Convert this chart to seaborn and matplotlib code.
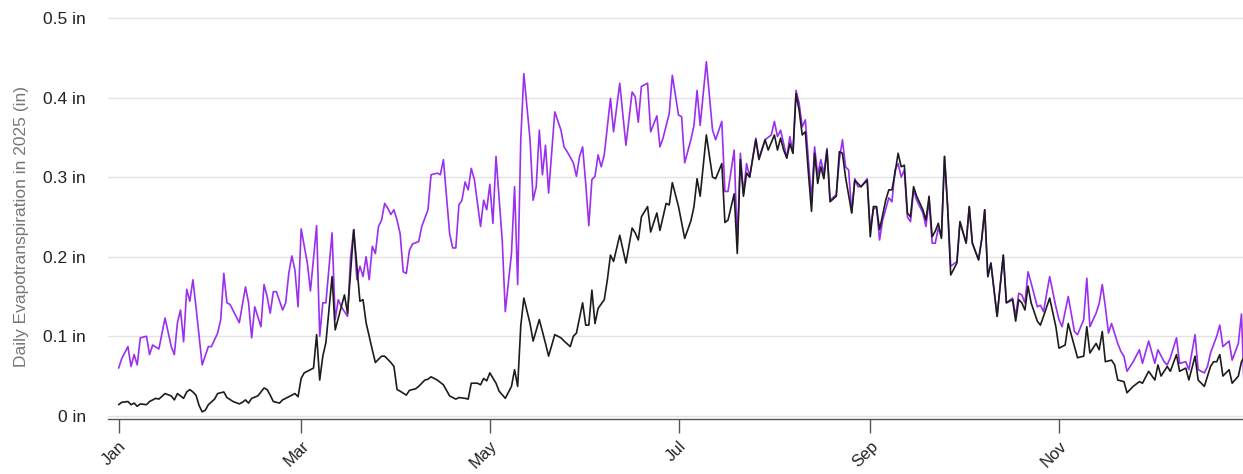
import pandas as pd
import matplotlib.pyplot as plt
import seaborn as sns

# day-of-year (0 = Jan 1 2025) and daily ET in inches
purple_days = [0, 1, 3, 4, 5, 6, 7, 9, 10, 11, 13, 15, 17, 18, 19, 20, 21, 22, 23, 24, 25, 27, 29, 30,
               32, 33, 34, 35, 36, 39, 41, 42, 43, 44, 46, 47, 48, 49, 50, 51, 53, 54, 55, 56, 57, 58,
               59, 61, 62, 64, 65, 66, 67, 69, 70, 71, 72, 74, 75, 76, 77, 78, 79, 80, 81, 82, 83, 84,
               85, 86, 87, 88, 89, 90, 91, 92, 93, 94, 95, 97, 98, 100, 101, 103, 104, 105, 106, 107,
               108, 109, 110, 111, 112, 113, 114, 115, 117, 118, 119, 120, 121, 122, 124, 125, 127, 128,
               129, 130, 131, 133, 134, 135, 136, 137, 138, 139, 141, 143, 144, 145, 147, 148, 149, 150,
               151, 152, 153, 154, 155, 156, 157, 159, 160, 162, 164, 166, 167, 168, 169, 171, 172, 174,
               175, 176, 178, 179, 181, 182, 183, 185, 186, 187, 188, 190, 192, 193, 195, 196, 197, 199,
               200, 201, 202, 203, 204, 206, 207, 209, 211, 212, 213, 214, 215, 216, 217, 218, 219, 220,
               221, 222, 223, 224, 225, 226, 227, 228, 229, 230, 232, 233, 234, 235, 236, 237, 238, 239,
               240, 242, 243, 244, 245, 246, 247, 249, 250, 251, 252, 253, 254, 255, 256, 257, 258, 260,
               261, 262, 263, 264, 265, 266, 267, 268, 269, 271, 272, 274, 275, 276, 278, 279, 280, 281,
               282, 284, 286, 287, 289, 290, 291, 292, 293, 294, 295, 297, 298, 299, 301, 303, 304, 305,
               307, 309, 310, 312, 313, 314, 316, 317, 318, 319, 320, 321, 323, 324, 325, 326, 328, 330,
               331, 333, 335, 336, 338, 339, 340, 342, 343, 345, 346, 348, 349, 351, 352, 353, 355, 356,
               357, 359, 360, 362, 363, 364]
purple_vals = [0.060, 0.072, 0.087, 0.062, 0.077, 0.064, 0.098, 0.100, 0.077, 0.089, 0.084, 0.123, 0.087,
               0.077, 0.117, 0.133, 0.093, 0.159, 0.144, 0.171, 0.137, 0.064, 0.087, 0.087, 0.104, 0.121,
               0.179, 0.142, 0.140, 0.117, 0.162, 0.142, 0.098, 0.137, 0.112, 0.165, 0.150, 0.129, 0.156,
               0.156, 0.133, 0.142, 0.179, 0.201, 0.183, 0.137, 0.235, 0.192, 0.157, 0.239, 0.100, 0.142,
               0.142, 0.230, 0.121, 0.146, 0.137, 0.125, 0.200, 0.234, 0.171, 0.188, 0.175, 0.200, 0.171,
               0.213, 0.204, 0.238, 0.246, 0.267, 0.261, 0.253, 0.259, 0.246, 0.229, 0.181, 0.179, 0.208,
               0.216, 0.219, 0.238, 0.259, 0.303, 0.305, 0.303, 0.322, 0.275, 0.229, 0.211, 0.211, 0.265,
               0.271, 0.294, 0.284, 0.311, 0.297, 0.238, 0.271, 0.259, 0.291, 0.242, 0.326, 0.221, 0.131,
               0.204, 0.288, 0.165, 0.347, 0.430, 0.347, 0.271, 0.288, 0.359, 0.303, 0.340, 0.280, 0.382,
               0.359, 0.338, 0.332, 0.318, 0.301, 0.326, 0.338, 0.292, 0.239, 0.297, 0.301, 0.328, 0.313,
               0.328, 0.399, 0.357, 0.418, 0.340, 0.407, 0.401, 0.369, 0.414, 0.418, 0.357, 0.377, 0.338,
               0.349, 0.380, 0.428, 0.378, 0.376, 0.318, 0.347, 0.365, 0.409, 0.365, 0.445, 0.359, 0.347,
               0.370, 0.282, 0.282, 0.334, 0.215, 0.330, 0.279, 0.317, 0.300, 0.349, 0.324, 0.347, 0.353,
               0.370, 0.351, 0.359, 0.342, 0.324, 0.351, 0.330, 0.409, 0.393, 0.363, 0.372, 0.322, 0.271,
               0.338, 0.303, 0.322, 0.305, 0.336, 0.271, 0.278, 0.322, 0.347, 0.313, 0.309, 0.255, 0.298,
               0.288, 0.288, 0.298, 0.234, 0.259, 0.263, 0.221, 0.246, 0.274, 0.269, 0.309, 0.317, 0.300,
               0.309, 0.250, 0.244, 0.284, 0.271, 0.255, 0.238, 0.271, 0.217, 0.217, 0.236, 0.225, 0.326,
               0.263, 0.188, 0.194, 0.244, 0.217, 0.263, 0.217, 0.196, 0.221, 0.259, 0.175, 0.192, 0.125,
               0.202, 0.142, 0.148, 0.125, 0.154, 0.152, 0.142, 0.181, 0.167, 0.137, 0.139, 0.131, 0.175,
               0.137, 0.121, 0.112, 0.150, 0.106, 0.102, 0.121, 0.173, 0.112, 0.129, 0.141, 0.165, 0.137,
               0.104, 0.116, 0.091, 0.081, 0.075, 0.056, 0.068, 0.083, 0.066, 0.094, 0.066, 0.083, 0.068,
               0.064, 0.073, 0.098, 0.066, 0.068, 0.058, 0.102, 0.058, 0.054, 0.062, 0.079, 0.100, 0.114,
               0.087, 0.094, 0.070, 0.091, 0.128, 0.020]

black_days = [0, 1, 3, 4, 5, 6, 7, 9, 10, 12, 13, 15, 17, 18, 19, 20, 21, 22, 23, 24, 25, 26, 27, 28, 29,
              31, 32, 34, 35, 37, 39, 40, 41, 42, 43, 45, 47, 48, 49, 50, 52, 53, 54, 56, 57, 58, 59, 60,
              62, 63, 64, 65, 66, 67, 69, 70, 72, 73, 74, 76, 78, 79, 80, 82, 83, 85, 86, 88, 89, 90, 91,
              93, 94, 96, 97, 99, 100, 101, 103, 105, 107, 109, 110, 112, 113, 114, 116, 117, 118, 119,
              120, 122, 123, 125, 127, 128, 129, 130, 131, 133, 134, 136, 138, 139, 141, 143, 144, 146,
              147, 148, 150, 151, 152, 153, 154, 155, 157, 158, 159, 160, 162, 164, 166, 167, 168, 169,
              171, 172, 174, 175, 177, 178, 179, 181, 183, 185, 186, 187, 188, 190, 192, 193, 195, 196,
              197, 199, 200, 201, 202, 203, 204, 206, 207, 209, 210, 212, 213, 214, 215, 216, 217, 218,
              219, 220, 221, 222, 223, 224, 225, 226, 227, 228, 229, 230, 232, 233, 234, 235, 237, 238,
              240, 242, 243, 244, 245, 246, 248, 249, 250, 251, 252, 253, 254, 255, 256, 257, 258, 260,
              261, 262, 263, 264, 265, 266, 267, 268, 269, 271, 272, 274, 275, 276, 278, 279, 280, 281,
              282, 284, 286, 287, 289, 290, 291, 292, 293, 294, 295, 297, 298, 299, 301, 303, 304, 306,
              307, 309, 310, 312, 313, 314, 316, 317, 318, 319, 321, 322, 323, 325, 326, 328, 330, 331,
              333, 335, 336, 337, 339, 340, 342, 343, 345, 346, 348, 349, 351, 353, 354, 355, 356, 357,
              359, 360, 362, 363, 364]
black_vals = [0.014, 0.017, 0.018, 0.014, 0.016, 0.012, 0.015, 0.014, 0.018, 0.022, 0.021, 0.028, 0.025,
              0.020, 0.028, 0.025, 0.022, 0.030, 0.033, 0.030, 0.026, 0.013, 0.005, 0.007, 0.014, 0.021,
              0.028, 0.030, 0.023, 0.018, 0.015, 0.017, 0.020, 0.016, 0.022, 0.025, 0.035, 0.033, 0.026,
              0.018, 0.016, 0.020, 0.022, 0.026, 0.028, 0.024, 0.047, 0.054, 0.058, 0.060, 0.102, 0.045,
              0.075, 0.092, 0.175, 0.108, 0.137, 0.152, 0.129, 0.234, 0.144, 0.146, 0.117, 0.083, 0.067,
              0.075, 0.075, 0.067, 0.062, 0.033, 0.031, 0.026, 0.032, 0.034, 0.037, 0.045, 0.046, 0.049,
              0.045, 0.039, 0.025, 0.021, 0.023, 0.022, 0.021, 0.041, 0.041, 0.039, 0.047, 0.044, 0.054,
              0.041, 0.031, 0.022, 0.037, 0.058, 0.037, 0.113, 0.148, 0.116, 0.094, 0.121, 0.091, 0.075,
              0.102, 0.098, 0.094, 0.087, 0.100, 0.104, 0.142, 0.114, 0.114, 0.158, 0.116, 0.135, 0.146,
              0.171, 0.202, 0.194, 0.227, 0.192, 0.236, 0.230, 0.221, 0.250, 0.263, 0.231, 0.255, 0.233,
              0.267, 0.265, 0.293, 0.263, 0.223, 0.245, 0.263, 0.298, 0.276, 0.353, 0.300, 0.298, 0.317,
              0.243, 0.246, 0.279, 0.204, 0.322, 0.276, 0.305, 0.300, 0.347, 0.322, 0.347, 0.334, 0.353,
              0.334, 0.349, 0.334, 0.324, 0.342, 0.330, 0.405, 0.384, 0.353, 0.357, 0.305, 0.257, 0.330,
              0.292, 0.313, 0.298, 0.334, 0.269, 0.276, 0.332, 0.330, 0.300, 0.255, 0.296, 0.288, 0.296,
              0.225, 0.263, 0.263, 0.234, 0.271, 0.284, 0.284, 0.305, 0.330, 0.313, 0.315, 0.255, 0.250,
              0.288, 0.276, 0.259, 0.246, 0.276, 0.225, 0.232, 0.242, 0.223, 0.326, 0.263, 0.177, 0.192,
              0.244, 0.217, 0.263, 0.217, 0.196, 0.221, 0.259, 0.175, 0.192, 0.125, 0.202, 0.142, 0.146,
              0.119, 0.146, 0.142, 0.133, 0.163, 0.142, 0.119, 0.114, 0.125, 0.148, 0.112, 0.085, 0.089,
              0.116, 0.087, 0.073, 0.075, 0.112, 0.079, 0.091, 0.083, 0.106, 0.068, 0.070, 0.064, 0.045,
              0.043, 0.029, 0.037, 0.043, 0.041, 0.056, 0.045, 0.064, 0.050, 0.062, 0.056, 0.077, 0.056,
              0.060, 0.045, 0.075, 0.045, 0.037, 0.062, 0.068, 0.068, 0.077, 0.050, 0.058, 0.041, 0.050,
              0.068, 0.075]

series_colors = {"purple": "#9b2ff0", "black": "#1c1c1c"}
month_ticks = ["2025-01-01", "2025-03-01", "2025-05-01", "2025-07-01", "2025-09-01", "2025-11-01"]
month_labels = ["Jan", "Mar", "May", "Jul", "Sep", "Nov"]
y_ticks = [0, 0.1, 0.2, 0.3, 0.4, 0.5]
y_labels = ["0 in", "0.1 in", "0.2 in", "0.3 in", "0.4 in", "0.5 in"]

start = pd.Timestamp("2025-01-01")
df = pd.concat([
    pd.DataFrame({"date": start + pd.to_timedelta(purple_days, unit="D"), "et": purple_vals, "series": "purple"}),
    pd.DataFrame({"date": start + pd.to_timedelta(black_days, unit="D"), "et": black_vals, "series": "black"}),
])

sns.set_style("white")
plt.rcParams["font.family"] = ["Liberation Sans", "DejaVu Sans"]

fig = plt.figure(figsize=(12.43, 4.74), dpi=100)
ax = fig.add_axes([0.087, 0.116, 0.913, 0.884])

sns.lineplot(data=df, x="date", y="et", hue="series", palette=series_colors,
             hue_order=["purple", "black"], linewidth=1.2, legend=False, ax=ax)

ax.set_ylim(-0.004, 0.5226)
ax.set_xlim(start - pd.Timedelta(days=3.4), start + pd.Timedelta(days=363.5))

ax.set_yticks(y_ticks)
ax.set_yticklabels(y_labels)
ax.set_xticks(pd.to_datetime(month_ticks))
ax.set_xticklabels(month_labels, rotation=45, ha="right", rotation_mode="anchor")

ax.grid(axis="y", color="#e3e3e3", linewidth=1)
ax.grid(axis="x", visible=False)
for s in ["top", "right", "left"]:
    ax.spines[s].set_visible(False)
ax.spines["bottom"].set_color("#555555")
ax.spines["bottom"].set_linewidth(1)

ax.tick_params(axis="y", length=0, pad=16, labelsize=12.5, labelcolor="#222222")
ax.tick_params(axis="x", direction="out", length=10, width=1, color="#555555",
               bottom=True, pad=4, labelsize=12, labelcolor="#222222")

ax.set_xlabel("")
ax.set_ylabel("Daily Evapotranspiration in 2025 (in)", color="#777777", fontsize=12.5)
ax.yaxis.set_label_coords(-0.070, 0.46)

fig.savefig("out.png", dpi=100)
